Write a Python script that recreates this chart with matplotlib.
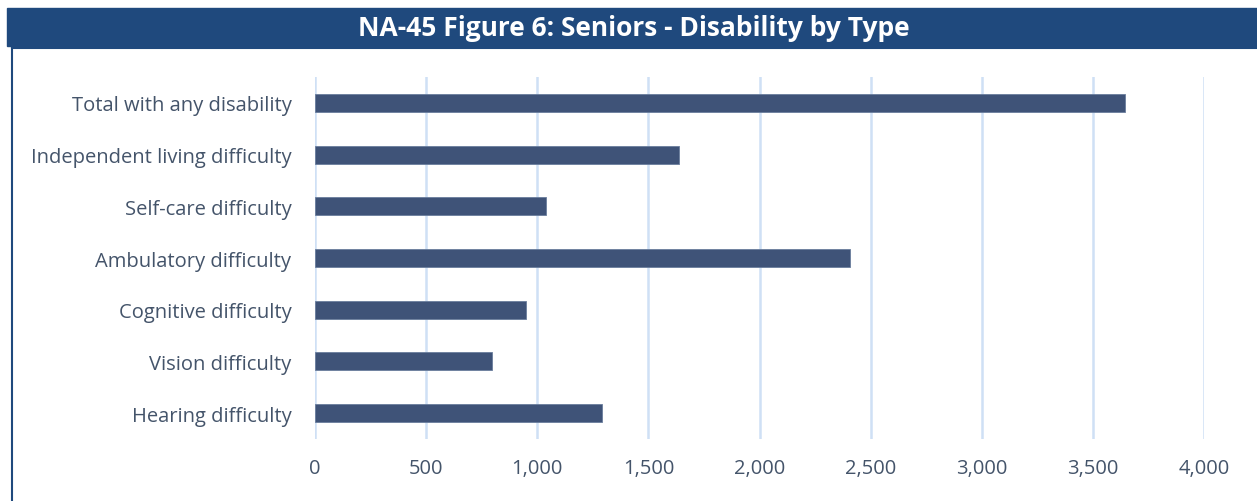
import matplotlib.pyplot as plt
from matplotlib.patches import Rectangle
from matplotlib.lines import Line2D

categories = [
    "Total with any disability",
    "Independent living difficulty",
    "Self-care difficulty",
    "Ambulatory difficulty",
    "Cognitive difficulty",
    "Vision difficulty",
    "Hearing difficulty",
]
seniors = [3644, 1638, 1040, 2407, 950, 797, 1290]
x_ticks = [0, 500, 1000, 1500, 2000, 2500, 3000, 3500, 4000]

W, H = 1257, 502
fig = plt.figure(figsize=(W / 100, H / 100), dpi=100)
plt.rcParams['font.family'] = ['Open Sans', 'DejaVu Sans']

navy = '#1F497D'
bar_col = '#3F5378'
text_col = '#44546A'
grid_col = '#CFE0F5'

# title banner
fig.patches.append(Rectangle((7 / W, 1 - 47 / H), 1 - 7 / W, 38 / H,
                             transform=fig.transFigure, color=navy, zorder=0))
fig.text(634 / W, 1 - 29 / H, "NA-45 Figure 6: Seniors - Disability by Type",
         ha='center', va='center', color='white', fontsize=19, fontweight='bold')

# frame lines under the banner and down the left side
fig.lines.append(Line2D([11.5 / W, 1], [1 - 48.5 / H, 1 - 48.5 / H],
                        transform=fig.transFigure, color=navy, lw=1.5))
fig.lines.append(Line2D([11.5 / W, 11.5 / W], [1 - 48.5 / H, 0],
                        transform=fig.transFigure, color=navy, lw=1.5))

ax = fig.add_axes([315 / W, 1 - 440 / H, (1204 - 315) / W, (440 - 78) / H])
y = range(len(categories))
ax.barh(y, seniors, height=0.35, color=bar_col, edgecolor='#6A7D9C',
        linewidth=0.6, zorder=3)
ax.set_ylim(len(categories) - 0.5, -0.5)
ax.set_xlim(0, 4000)
ax.set_yticks(list(y))
ax.set_yticklabels(categories)
ax.set_xticks(x_ticks)
ax.set_xticklabels([f"{v:,}" for v in x_ticks])
ax.tick_params(axis='both', length=0, labelsize=14.5, colors=text_col)
ax.tick_params(axis='y', pad=17)
ax.tick_params(axis='x', pad=14)
ax.xaxis.grid(True, color=grid_col, lw=1.8, zorder=0)
for s in ax.spines.values():
    s.set_visible(False)

fig.savefig('out.png', dpi=100)
